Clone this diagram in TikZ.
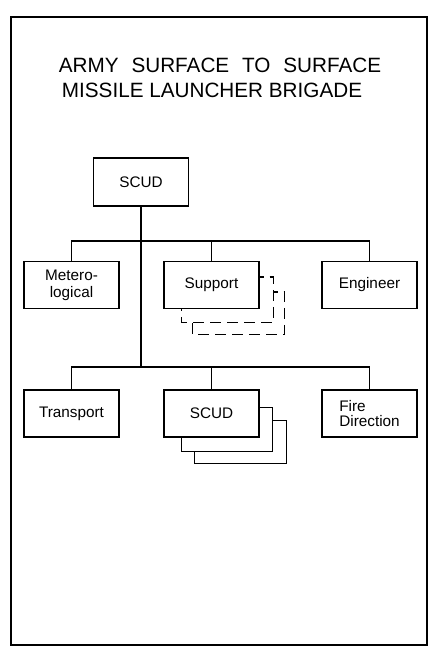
\documentclass[tikz,border=0pt]{standalone}
\usepackage{fontspec}
\setmainfont{Liberation Sans}
\usetikzlibrary{calc}
\tikzset{
  unit/.style={draw, line width=1.3pt, minimum width=95pt, minimum height=47pt,
    inner sep=0pt, align=center, font=\fontsize{15.3}{17}\selectfont},
  link/.style={line width=1.3pt},
  ghost/.style={line width=1.3pt, dash pattern=on 11pt off 6pt, dash phase=7pt},
  heading/.style={font=\fontsize{20.7}{24}\selectfont}
}
\begin{document}
\begin{tikzpicture}[x=1pt,y=-1pt]
    \useasboundingbox (0,0) rectangle (434,648);
    \draw[line width=2.2pt] (11,17) rectangle (427,645);
    \node[heading] (t1) at (220,65) {ARMY\hspace{.62em}SURFACE\hspace{.62em}TO\hspace{.62em}SURFACE};
    \node[heading] (t2) at (212,90) {MISSILE LAUNCHER BRIGADE};
    \node[unit, minimum height=48pt] (top) at (141,182) {SCUD};
    % first row
    \node[unit] (met) at (71.5,285) {Metero-\\logical};
    \node[unit] (sup) at (211.5,285) {Support};
    \node[unit] (eng) at (369.5,285) {Engineer};
    % second row
    \node[unit] (tra) at (71.5,413.5) {Transport};
    \node[unit] (bat) at (211.5,413.5) {SCUD};
    \node[unit, align=left, font=\fontsize{15.3}{15}\selectfont] (fire) at (369.5,413.5) {Fire\\Direction};
    \coordinate (bus1) at (141,241);
    \coordinate (bus2) at (141,367);
    \draw[link] (top.south) -- (bus2);
    \draw[link] (met.north) |- (bus1) -| (eng.north);
    \draw[link] (sup.north) -- (sup.north |- bus1);
    \draw[link] (tra.north) |- (bus2) -| (fire.north);
    \draw[link] (bat.north) -- (bat.north |- bus2);
    % stacked copies
    \draw[ghost] ($(sup.north east)+(0,16)$) -| ($(sup.south east)+(14,13)$) -| ($(sup.south west)+(18,0)$);
    \draw[ghost] ($(sup.north east)+(14,31)$) -| ($(sup.south east)+(25,25)$) -| ($(sup.south west)+(29,13)$);
    \draw[link] ($(bat.north east)+(0,18)$) -| ($(bat.south east)+(13,14)$) -| ($(bat.south west)+(18,0)$);
    \draw[link] ($(bat.north east)+(13,31)$) -| ($(bat.south east)+(27,26)$) -| ($(bat.south west)+(31,14)$);
\end{tikzpicture}
\end{document}
